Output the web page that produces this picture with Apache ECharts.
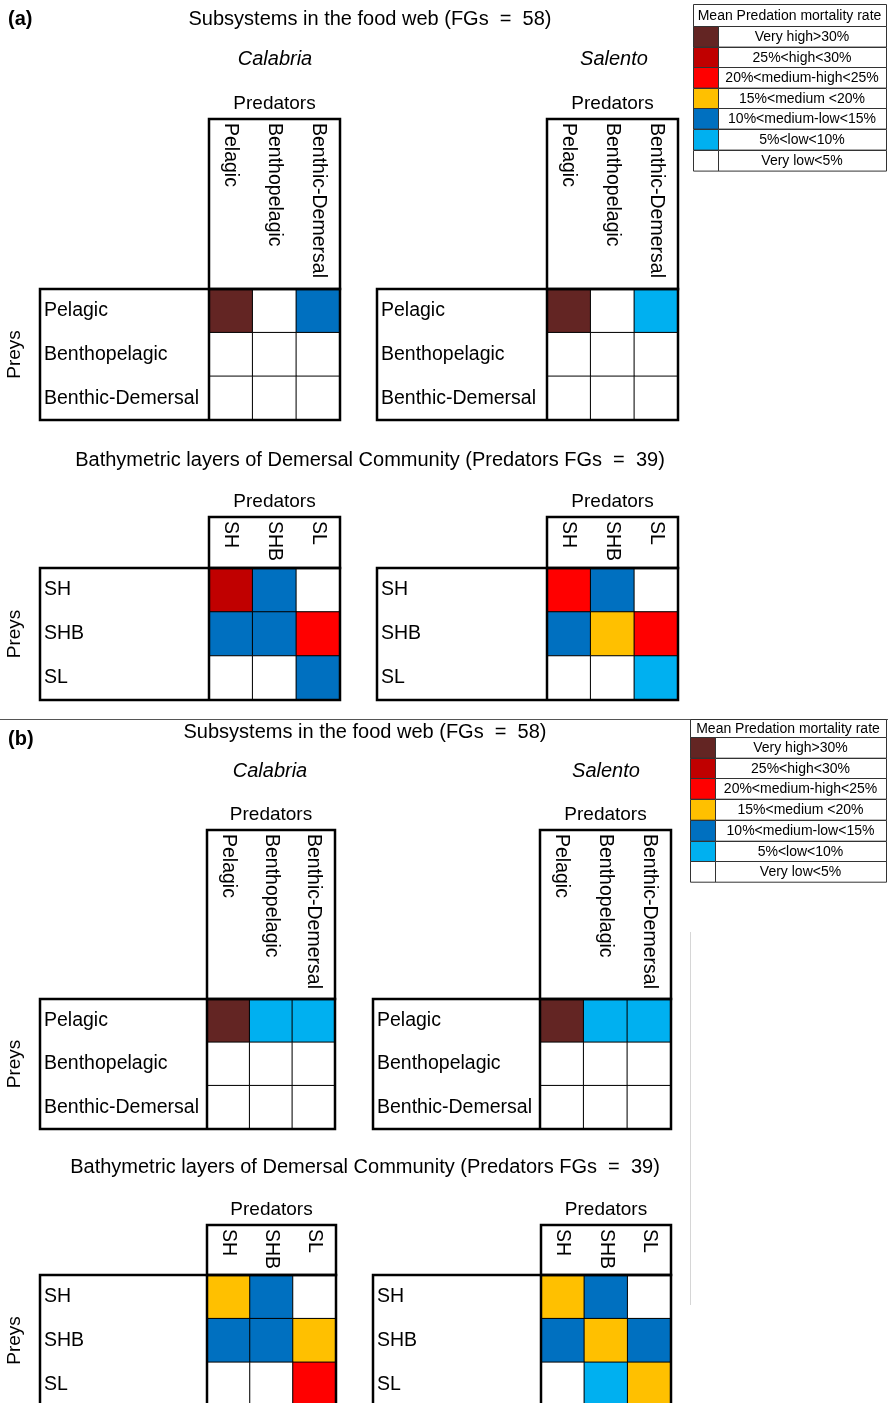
<!DOCTYPE html>
<html>
<head>
<meta charset="utf-8">
<script src="https://cdn.jsdelivr.net/npm/echarts@6/dist/echarts.min.js"></script>
<style>
  html, body { margin: 0; padding: 0; background: #fff; }
  #chart { width: 888px; height: 1403px; }
</style>
</head>
<body>
<div id="chart"></div>
<script>
// Functional-group categories used for predators (columns) and preys (rows)
const subsystems = ['Pelagic', 'Benthopelagic', 'Benthic-Demersal'];
const layers = ['SH', 'SHB', 'SL'];

// Mean predation mortality classes, lowest (0) to highest (6)
const classLabels = ['Very low<5%', '5%<low<10%', '10%<medium-low<15%', '15%<medium <20%',
                     '20%<medium-high<25%', '25%<high<30%', 'Very high>30%'];
const classColors = ['#FFFFFF', '#00B0F0', '#0070C0', '#FFC000', '#FF0000', '#C00000', '#632523'];
const legendTitle = 'Mean Predation mortality rate';

// Mortality class per prey row x predator column
const aCalabriaSub   = [[6, 0, 2], [0, 0, 0], [0, 0, 0]];
const aSalentoSub    = [[6, 0, 1], [0, 0, 0], [0, 0, 0]];
const aCalabriaBathy = [[5, 2, 0], [2, 2, 4], [0, 0, 2]];
const aSalentoBathy  = [[4, 2, 0], [2, 3, 4], [0, 0, 1]];
const bCalabriaSub   = [[6, 1, 1], [0, 0, 0], [0, 0, 0]];
const bSalentoSub    = [[6, 1, 1], [0, 0, 0], [0, 0, 0]];
const bCalabriaBathy = [[3, 2, 0], [2, 2, 3], [0, 0, 4]];
const bSalentoBathy  = [[3, 2, 0], [2, 3, 2], [0, 1, 3]];

const FONT = '"Liberation Sans", Arial, Helvetica, sans-serif';
const CAT_SIZE = 19.5;

// Placement of each predator x prey matrix
const matrices = [
  { values: aCalabriaSub,   cats: subsystems, left: 209, top: 289,  width: 131, height: 131, headTop: 119,  boxLeft: 40 },
  { values: aSalentoSub,    cats: subsystems, left: 547, top: 289,  width: 131, height: 131, headTop: 119,  boxLeft: 377 },
  { values: aCalabriaBathy, cats: layers,     left: 209, top: 568,  width: 131, height: 132, headTop: 517,  boxLeft: 40 },
  { values: aSalentoBathy,  cats: layers,     left: 547, top: 568,  width: 131, height: 132, headTop: 517,  boxLeft: 377 },
  { values: bCalabriaSub,   cats: subsystems, left: 207, top: 999,  width: 128, height: 130, headTop: 830,  boxLeft: 40 },
  { values: bSalentoSub,    cats: subsystems, left: 540, top: 999,  width: 131, height: 130, headTop: 830,  boxLeft: 373 },
  { values: bCalabriaBathy, cats: layers,     left: 207, top: 1275, width: 129, height: 131, headTop: 1225, boxLeft: 40 },
  { values: bSalentoBathy,  cats: layers,     left: 541, top: 1275, width: 130, height: 131, headTop: 1225, boxLeft: 373 }
];

const headings = [
  { text: '(a)', x: 8, y: 19, weight: 'bold', align: 'left' },
  { text: 'Subsystems in the food web (FGs  =  58)', x: 370, y: 19 },
  { text: 'Calabria', x: 275, y: 59, style: 'italic' },
  { text: 'Salento', x: 614, y: 59, style: 'italic' },
  { text: 'Bathymetric layers of Demersal Community (Predators FGs  =  39)', x: 370, y: 460 },
  { text: '(b)', x: 8, y: 739, weight: 'bold', align: 'left' },
  { text: 'Subsystems in the food web (FGs  =  58)', x: 365, y: 732 },
  { text: 'Calabria', x: 270, y: 771, style: 'italic' },
  { text: 'Salento', x: 606, y: 771, style: 'italic' },
  { text: 'Bathymetric layers of Demersal Community (Predators FGs  =  39)', x: 365, y: 1167 }
];

function txt(text, x, y, opts) {
  opts = opts || {};
  return {
    type: 'text', x: x, y: y, rotation: opts.rotation || 0, z: 50, silent: true,
    style: {
      text: text, fill: '#000', fontFamily: FONT,
      fontSize: opts.size || 19, fontWeight: opts.weight || 'normal', fontStyle: opts.style || 'normal',
      align: opts.align || 'center', verticalAlign: 'middle'
    }
  };
}
function rect(x, y, w, h, fill, stroke, lw) {
  return { type: 'rect', z: 30, silent: true, shape: { x: x, y: y, width: w, height: h },
           style: { fill: fill || 'none', stroke: stroke || '#000', lineWidth: lw || 1 } };
}
function line(x1, y1, x2, y2, stroke, lw) {
  return { type: 'line', z: 30, silent: true, shape: { x1: x1, y1: y1, x2: x2, y2: y2 },
           style: { stroke: stroke, lineWidth: lw } };
}

// Colour key table, highest class at the top
function colourKey(x, y, w, headH, rowH, swW) {
  const els = [rect(x + 0.5, y + 0.5, w, headH, '#fff', '#333', 1),
               txt(legendTitle, x + w / 2, y + headH / 2 + 1, { size: 14 })];
  for (let k = 0; k < classColors.length; k++) {
    const idx = classColors.length - 1 - k;
    const ry = Math.round(y + headH + k * rowH) + 0.5;
    els.push(rect(x + 0.5, ry, swW, rowH, classColors[idx], '#333', 1));
    els.push(rect(x + swW + 0.5, ry, w - swW, rowH, '#fff', '#333', 1));
    els.push(txt(classLabels[idx], x + swW + (w - swW) / 2, ry + rowH / 2, { size: 14 }));
  }
  return els;
}

const grid = [], xAxis = [], yAxis = [], series = [], graphics = [];

matrices.forEach(function (m, i) {
  grid.push({ left: m.left, top: m.top, width: m.width, height: m.height, outerBoundsMode: 'none', containLabel: false });
  xAxis.push({
    gridIndex: i, type: 'category', data: m.cats, position: 'top', offset: m.top - m.headTop,
    axisLine: { show: false }, axisTick: { show: false }, splitLine: { show: false },
    axisLabel: { inside: true, rotate: 90, margin: 4, interval: 0, fontSize: CAT_SIZE, color: '#000', fontFamily: FONT }
  });
  yAxis.push({
    gridIndex: i, type: 'category', data: m.cats, inverse: true,
    axisLine: { show: false }, axisTick: { show: false }, splitLine: { show: false },
    axisLabel: { margin: m.left - m.boxLeft - 4, align: 'left', interval: 0, fontSize: CAT_SIZE, color: '#000', fontFamily: FONT }
  });
  const data = [];
  m.values.forEach(function (row, r) {
    row.forEach(function (v, c) { data.push([c, r, v]); });
  });
  series.push({
    type: 'heatmap', xAxisIndex: i, yAxisIndex: i, data: data, silent: true,
    itemStyle: { borderColor: '#000', borderWidth: 1 },
    emphasis: { disabled: true }
  });

  // table frames
  graphics.push(rect(m.left, m.headTop, m.width, m.top - m.headTop, 'none', '#000', 2.5));
  graphics.push(rect(m.boxLeft, m.top, m.left + m.width - m.boxLeft, m.height, 'none', '#000', 2.5));
  graphics.push(line(m.left, m.top, m.left, m.top + m.height, '#000', 2.5));
  graphics.push(txt('Predators', m.left + m.width / 2, m.headTop - 15));
  if (m.boxLeft < 100) {
    graphics.push(txt('Preys', 15, m.top + m.height / 2, { rotation: Math.PI / 2 }));
  }
});

headings.forEach(function (h) {
  graphics.push(txt(h.text, h.x, h.y, { weight: h.weight, style: h.style, align: h.align, size: 20 }));
});

// panel separator and side rule
graphics.push(line(0, 719.5, 888, 719.5, '#555', 1));
graphics.push(line(690.5, 932, 690.5, 1305, '#d6d6d6', 1));

colourKey(693, 4, 193, 22, 20.6, 25).forEach(function (e) { graphics.push(e); });
colourKey(690, 719, 196, 18, 20.7, 25).forEach(function (e) { graphics.push(e); });

const chart = echarts.init(document.getElementById('chart'), null, { renderer: 'canvas' });
chart.setOption({
  animation: false,
  backgroundColor: '#fff',
  grid: grid,
  xAxis: xAxis,
  yAxis: yAxis,
  visualMap: {
    type: 'piecewise', show: false, dimension: 2,
    seriesIndex: series.map(function (s, i) { return i; }),
    pieces: classColors.map(function (c, k) { return { value: k, color: c, label: classLabels[k] }; })
  },
  series: series,
  graphic: graphics
});
</script>
</body>
</html>
